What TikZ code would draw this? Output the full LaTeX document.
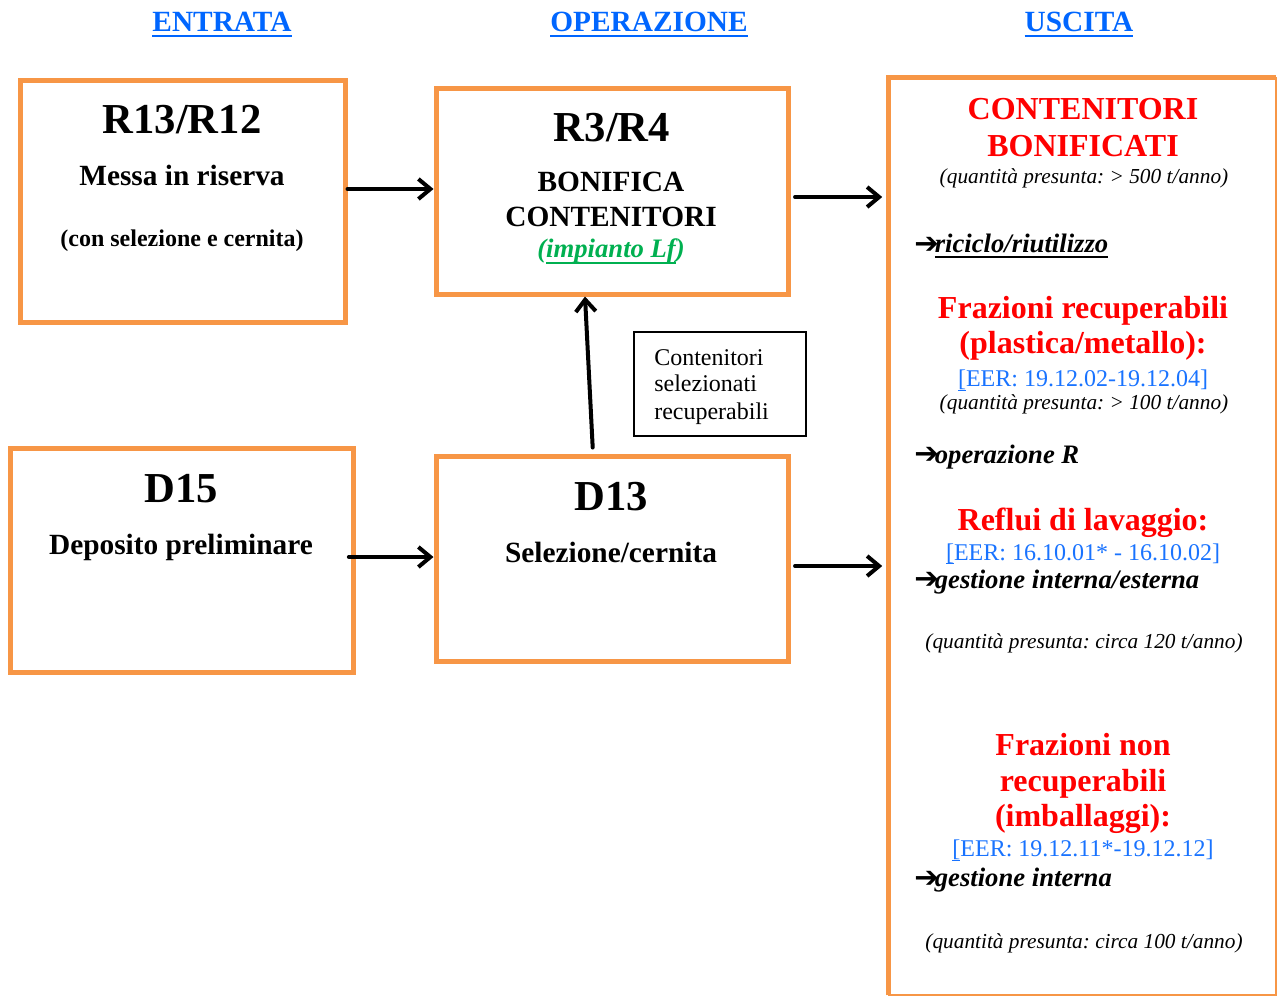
\documentclass[tikz,border=0pt]{standalone}
\usepackage{fontspec}
\setmainfont{Liberation Serif}
\newfontfamily\symfont{DejaVu Sans}
\usetikzlibrary{arrows.meta}

\definecolor{boxorange}{RGB}{247,150,70}
\definecolor{headblue}{RGB}{0,102,255}
\definecolor{eerblue}{RGB}{25,115,255}
\definecolor{lfgreen}{RGB}{0,176,80}
\definecolor{outred}{RGB}{255,0,0}

\frenchspacing
% font size in pt
\newcommand\fs[1]{\fontsize{#1}{#1}\selectfont}
% underline: #1 thickness, #2 gap below baseline, #3 text
\newcommand\ul[3]{\setbox0=\hbox{#3}\leavevmode\rlap{\vrule width\wd0 height -#2 depth \dimexpr#2+#1\relax}\box0}
% heavy arrow bullet in front of a line
\newcommand\arrowmark{{\symfont\bfseries\upshape\fs{22}\raisebox{-0.5pt}{➔}}\kern-3pt}

\tikzset{
  pbox/.style={draw=boxorange, line width=3.75pt, inner sep=0pt},
  flow/.style={line width=3pt, line cap=round, line join=round,
               -{Straight Barb[length=9pt,width=15pt]}},
  txt/.style={inner sep=0pt, anchor=base},
  ltxt/.style={inner sep=0pt, anchor=base west},
}

\begin{document}
\begin{tikzpicture}[x=0.75pt,y=-0.75pt]
\useasboundingbox (0,0) rectangle (1277,996);

% column headings
\node[txt, text=headblue] (hin)  at (222,31)  {\fs{22}\bfseries\ul{1.5pt}{3pt}{ENTRATA}};
\node[txt, text=headblue] (hop)  at (649,31)  {\fs{22}\bfseries\ul{1.5pt}{3pt}{OPERAZIONE}};
\node[txt, text=headblue] (hout) at (1079,31) {\fs{22}\bfseries\ul{1.5pt}{3pt}{USCITA}};

% process boxes
\node[pbox, minimum width={324.5*0.75pt}, minimum height={241.5*0.75pt}] (r13) at (182.75,201.25) {};
\node[pbox, minimum width={352*0.75pt}, minimum height={206*0.75pt}] (r3) at (612,191) {};
\node[pbox, minimum width={343*0.75pt}, minimum height={223.5*0.75pt}] (d15) at (181.5,560.25) {};
\node[pbox, minimum width={352*0.75pt}, minimum height={205*0.75pt}] (d13) at (612,558.5) {};

% box texts
\node[txt] (r13a) at (182,133)   {\fs{32}\bfseries R13/R12};
\node[txt] (r13b) at (182,185)   {\fs{22}\bfseries Messa in riserva};
\node[txt] (r13c) at (182,246)   {\fs{18}\bfseries (con selezione e cernita)};

\node[txt] (r3a) at (612,141.5)  {\fs{32}\bfseries R3/R4};
\node[txt] (r3b) at (611,191.5)  {\fs{22}\bfseries BONIFICA};
\node[txt] (r3c) at (611,226.5)  {\fs{22}\bfseries CONTENITORI};
\node[txt, text=lfgreen] (r3d) at (611,257) {\fs{20}\bfseries\itshape (\ul{1.5pt}{3.6pt}{impianto Lf})};

\node[txt] (d15a) at (181,502)   {\fs{32}\bfseries D15};
\node[txt] (d15b) at (181,554)   {\fs{22}\bfseries Deposito preliminare};

\node[txt] (d13a) at (611,510)   {\fs{32}\bfseries D13};
\node[txt] (d13b) at (611,562)   {\fs{22}\bfseries Selezione/cernita};

% label box for the upward flow
\node[draw, line width=1.2pt, inner sep=0pt, minimum width={172*0.75pt}, minimum height={104*0.75pt}] (lbl) at (720,384) {};
\node[ltxt] (lbla) at (654,365)   {\fs{18}Contenitori};
\node[ltxt] (lblb) at (654,391.7) {\fs{18}selezionati};
\node[ltxt] (lblc) at (654,419)   {\fs{18}recuperabili};

% output panel
\node[inner sep=0pt, minimum width={387.5*0.75pt}, minimum height={917.5*0.75pt}] (out) at (1082.25,536.25) {};
\draw[boxorange, line width=3.75pt] (out.south west) -- (out.north west) -- (out.north east);
\draw[boxorange, line width=1.5pt] (out.north east) -- (out.south east) -- (out.south west);

\node[txt, text=outred] (o1a) at (1083,119.5) {\fs{24}\bfseries CONTENITORI};
\node[txt, text=outred] (o1b) at (1083,156)   {\fs{24}\bfseries BONIFICATI};
\node[txt] (o1c) at (1084,183.3) {\fs{16}\itshape (quantità presunta: > 500 t/anno)};
\node[ltxt] (o1d) at (914,252.7) {\fs{20}\bfseries\itshape\arrowmark\ul{1.5pt}{2.6pt}{riciclo/riutilizzo}};

\node[txt, text=outred] (o2a) at (1083,318.3) {\fs{24}\bfseries Frazioni recuperabili};
\node[txt, text=outred] (o2b) at (1083,353.3) {\fs{24}\bfseries (plastica/metallo):};
\node[txt, text=eerblue] (o2c) at (1083,386.7) {\fs{18}\ul{0.75pt}{2.2pt}{[}EER: 19.12.02-19.12.04]};
\node[txt] (o2d) at (1084,409.3) {\fs{16}\itshape (quantità presunta: > 100 t/anno)};
\node[ltxt] (o2e) at (914,463.3) {\fs{20}\bfseries\itshape\arrowmark operazione R};

\node[txt, text=outred] (o3a) at (1083,530) {\fs{24}\bfseries Reflui di lavaggio:};
\node[txt, text=eerblue] (o3b) at (1083,560) {\fs{18}\ul{0.75pt}{2.2pt}{[}EER: 16.10.01* - 16.10.02]};
\node[ltxt] (o3c) at (914,588.3) {\fs{20}\bfseries\itshape\arrowmark gestione interna/esterna};
\node[txt] (o3d) at (1084,648.3) {\fs{16}\itshape (quantità presunta: circa 120 t/anno)};

\node[txt, text=outred] (o4a) at (1083,755)   {\fs{24}\bfseries Frazioni non};
\node[txt, text=outred] (o4b) at (1083,791.7) {\fs{24}\bfseries recuperabili};
\node[txt, text=outred] (o4c) at (1083,826.7) {\fs{24}\bfseries (imballaggi):};
\node[txt, text=eerblue] (o4d) at (1083,856.7) {\fs{18}\ul{0.75pt}{2.2pt}{[}EER: 19.12.11*-19.12.12]};
\node[ltxt] (o4e) at (914,886.7) {\fs{20}\bfseries\itshape\arrowmark gestione interna};
\node[txt] (o4f) at (1084,948.3) {\fs{16}\itshape (quantità presunta: circa 100 t/anno)};

% flows
\coordinate (ya) at (0,189);
\coordinate (yb) at (0,557);
\coordinate (yc) at (0,197);
\coordinate (yd) at (0,566);
\coordinate (xa) at (593,0);
\coordinate (xb) at (585,0);
\draw[flow] (r13.east |- ya) -- (r3.west |- ya);
\draw[flow, shorten <=-5pt] (d15.east |- yb) -- (d13.west |- yb);
\draw[flow, shorten <=3.4pt, shorten >=4.5pt] (r3.east |- yc) -- (out.west |- yc);
\draw[flow, shorten <=3.4pt, shorten >=4.5pt] (d13.east |- yd) -- (out.west |- yd);
\draw[flow, shorten <=4.5pt] (d13.north -| xa) -- (r3.south -| xb);
\end{tikzpicture}
\end{document}
